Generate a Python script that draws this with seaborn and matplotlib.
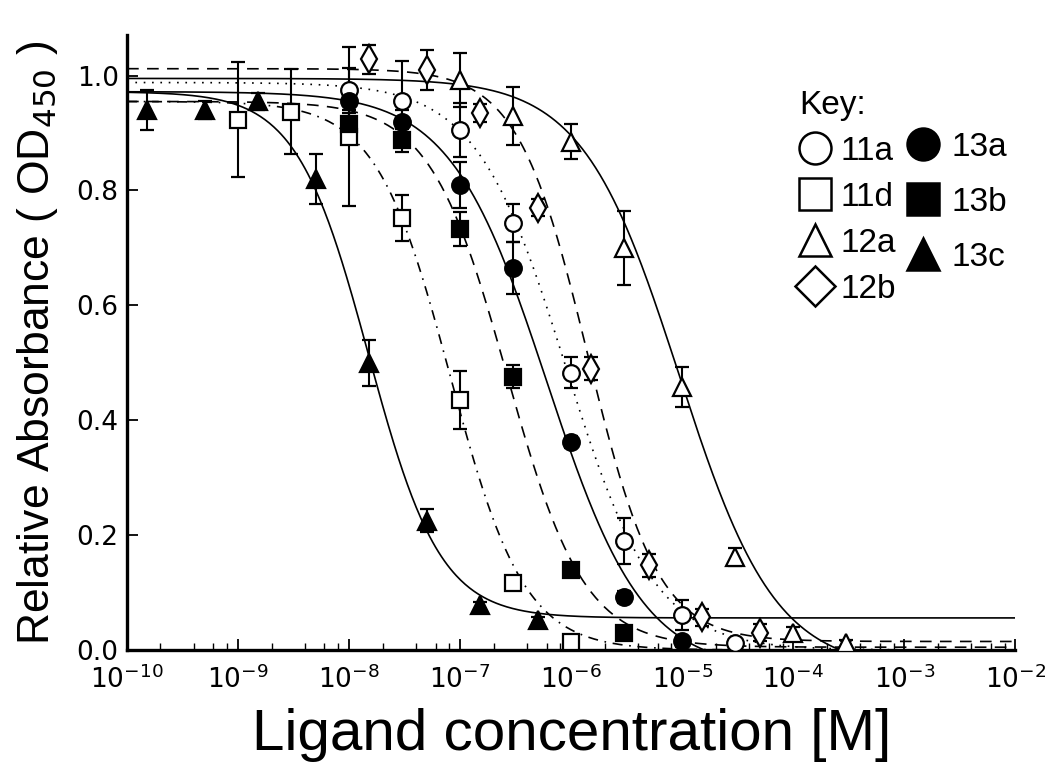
import matplotlib
matplotlib.use('Agg')
import matplotlib.pyplot as plt
import matplotlib.ticker as ticker
from matplotlib.lines import Line2D
import numpy as np
import pandas as pd
import seaborn as sns


conc_11a = [1e-8, 3e-8, 1e-7, 3e-7, 1e-6, 3e-6, 1e-5, 3e-5]
od_11a = [0.975, 0.955, 0.906, 0.744, 0.483, 0.190, 0.061, 0.012]
err_11a = [0.075, 0.070, 0.047, 0.033, 0.027, 0.040, 0.026, 0.006]

conc_11d = [1e-9, 3e-9, 1e-8, 3e-8, 1e-7, 3e-7, 1e-6]
od_11d = [0.923, 0.937, 0.893, 0.752, 0.435, 0.117, 0.014]
err_11d = [0.100, 0.074, 0.120, 0.040, 0.050, 0.010, 0.006]

conc_12a = [1e-7, 3e-7, 1e-6, 3e-6, 1e-5, 3e-5, 1e-4, 3e-4]
od_12a = [0.993, 0.930, 0.885, 0.700, 0.458, 0.162, 0.030, 0.012]
err_12a = [0.047, 0.050, 0.030, 0.065, 0.035, 0.015, 0.010, 0.006]

conc_12b = [1.5e-8, 5e-8, 1.5e-7, 5e-7, 1.5e-6, 5e-6, 1.5e-5, 5e-5]
od_12b = [1.028, 1.010, 0.935, 0.770, 0.490, 0.148, 0.057, 0.030]
err_12b = [0.025, 0.035, 0.015, 0.015, 0.020, 0.020, 0.015, 0.015]

conc_13a = [1e-8, 3e-8, 1e-7, 3e-7, 1e-6, 3e-6, 1e-5]
od_13a = [0.955, 0.920, 0.810, 0.665, 0.362, 0.092, 0.015]
err_13a = [0.015, 0.020, 0.040, 0.045, 0.010, 0.010, 0.010]

conc_13b = [1e-8, 3e-8, 1e-7, 3e-7, 1e-6, 3e-6]
od_13b = [0.915, 0.887, 0.733, 0.476, 0.139, 0.030]
err_13b = [0.020, 0.020, 0.030, 0.020, 0.012, 0.010]

conc_13c = [1.5e-10, 5e-10, 1.5e-9, 5e-9, 1.5e-8, 5e-8, 1.5e-7, 5e-7]
od_13c = [0.940, 0.940, 0.955, 0.820, 0.500, 0.225, 0.078, 0.052]
err_13c = [0.035, 0.015, 0.015, 0.043, 0.040, 0.020, 0.006, 0.005]

# four-parameter logistic fits, one entry per compound
compounds = ['11a', '11d', '12a', '12b', '13a', '13b', '13c']
fit_top = [0.988, 0.955, 0.995, 1.012, 0.972, 0.955, 0.972]
fit_bottom = [0.0, 0.0, -0.035, 0.015, -0.037, 0.005, 0.056]
fit_logic50 = [-6.05, -7.09, -5.03, -5.85, -6.22, -6.58, -7.825]
fit_hill = [1.08, 1.3, 1.0, 1.37, 1.0, 1.25, 1.34]

# axis ticks
xtick_values = [1e-10, 1e-9, 1e-8, 1e-7, 1e-6, 1e-5, 1e-4, 1e-3, 1e-2]
ytick_values = [0.0, 0.2, 0.4, 0.6, 0.8, 1.0]

LABEL_FONT = ['Liberation Sans', 'DejaVu Sans']

sns.set_style('ticks')
plt.rcParams['font.family'] = ['DejaVu Sans']
plt.rcParams['xtick.direction'] = 'in'
plt.rcParams['ytick.direction'] = 'in'
for key in ['text.color', 'axes.labelcolor', 'axes.edgecolor',
            'xtick.color', 'ytick.color']:
    plt.rcParams[key] = 'black'

points = {
    '11a': (conc_11a, od_11a, err_11a),
    '11d': (conc_11d, od_11d, err_11d),
    '12a': (conc_12a, od_12a, err_12a),
    '12b': (conc_12b, od_12b, err_12b),
    '13a': (conc_13a, od_13a, err_13a),
    '13b': (conc_13b, od_13b, err_13b),
    '13c': (conc_13c, od_13c, err_13c),
}

# marker, face colour, marker size, line dashes
styles = {
    '11a': ('o', 'white', 12, (1, 4)),
    '11d': ('s', 'white', 11, (6, 4, 1, 4)),
    '12a': ('^', 'white', 13, ''),
    '12b': ('d', 'white', 14, (7, 5)),
    '13a': ('o', 'black', 12, ''),
    '13b': ('s', 'black', 11, (7, 5)),
    '13c': ('^', 'black', 13, ''),
}

# evaluate the fitted curves on a grid over the plotted range
log_grid = np.linspace(-10, -2, 600)
rows = []
for i, name in enumerate(compounds):
    fit = fit_bottom[i] + (fit_top[i] - fit_bottom[i]) / (
        1 + 10 ** ((log_grid - fit_logic50[i]) * fit_hill[i]))
    rows.append(pd.DataFrame({'compound': name, 'conc': 10 ** log_grid,
                              'od': fit}))
curves = pd.concat(rows, ignore_index=True)

fig = plt.figure(figsize=(10.5, 7.73), dpi=100)
ax = fig.add_axes([0.121, 0.159, 0.846, 0.796])

for name in compounds:
    dashes = styles[name][3]
    sub = curves[curves.compound == name]
    sns.lineplot(data=sub, x='conc', y='od', ax=ax, color='black', lw=1.2,
                 legend=False, zorder=2)
    if dashes:
        ax.lines[-1].set_dashes(dashes)

for name in compounds:
    conc, od, err = points[name]
    marker, face, ms, _ = styles[name]
    ax.errorbar(conc, od, yerr=err, fmt=marker, mfc=face, mec='black',
                ms=ms, mew=1.6, ecolor='black', elinewidth=1.5, capsize=5,
                capthick=1.5, zorder=3)

ax.set_xscale('log')
ax.set_xlim(xtick_values[0], xtick_values[-1])
ax.set_ylim(0, 1.071)
ax.xaxis.set_major_locator(ticker.FixedLocator(xtick_values))
ax.xaxis.set_major_formatter(ticker.LogFormatterSciNotation())
ax.xaxis.set_minor_locator(ticker.LogLocator(base=10, subs=(2, 4, 6, 8),
                                             numticks=20))
ax.xaxis.set_minor_formatter(ticker.NullFormatter())
ax.set_yticks(ytick_values)
ax.yaxis.set_major_formatter(ticker.FormatStrFormatter('%.1f'))
ax.tick_params(which='major', length=8, width=1.3, labelsize=19, pad=6)
ax.tick_params(axis='x', which='major', pad=11)
ax.tick_params(which='minor', length=5, width=1.0)

sns.despine(ax=ax)
for side in ['left', 'bottom']:
    ax.spines[side].set_linewidth(2.4)

ax.set_xlabel('Ligand concentration [M]', family=LABEL_FONT, fontsize=42,
              labelpad=10)
ax.set_ylabel('Relative Absorbance ( OD$_{450}$ )', family=LABEL_FONT,
              fontsize=32, labelpad=12)


def key_handle(name):
    marker, face, _, _ = styles[name]
    if marker == 'd':
        marker = 'D'
    size = 20 if marker == 'D' else 23
    return Line2D([], [], ls='none', marker=marker, mfc=face, mec='black',
                  ms=size, mew=1.8)


key_font = {'family': LABEL_FONT, 'size': 24}
left_names = ['11a', '11d', '12a', '12b']
right_names = ['13a', '13b', '13c']

leg1 = ax.legend([key_handle(n) for n in left_names], left_names,
                 title='Key:', title_fontproperties=key_font, prop=key_font,
                 loc='upper left', bbox_to_anchor=(799 / 1050, 1 - 90 / 773),
                 bbox_transform=fig.transFigure, frameon=False, borderpad=0,
                 borderaxespad=0, handlelength=0.95, handletextpad=0.3,
                 labelspacing=0.45, alignment='left')
ax.add_artist(leg1)
ax.legend([key_handle(n) for n in right_names], right_names, prop=key_font,
          loc='upper left', bbox_to_anchor=(907 / 1050, 1 - 132 / 773),
          bbox_transform=fig.transFigure, frameon=False, borderpad=0,
          borderaxespad=0, handlelength=0.95, handletextpad=0.4,
          labelspacing=0.72)

fig.savefig('out.png', dpi=100)
